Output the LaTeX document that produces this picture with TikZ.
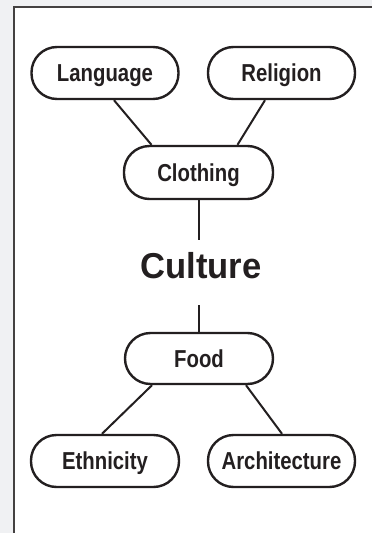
\documentclass[tikz,border=0pt]{standalone}
\usepackage{fontspec}
\newfontfamily\condfont{Liberation Sans}[FakeStretch=0.83]
\newfontfamily\titlefont{Liberation Sans}[FakeStretch=0.96]
\definecolor{bggray}{HTML}{F0F1F3}
\definecolor{ink}{HTML}{231F20}
\begin{document}
\begin{tikzpicture}[x=1pt,y=-1pt,
  topic/.style={draw=ink, line width=2.4pt, rounded corners=25.5pt,
    minimum width=147pt, minimum height=52pt, inner sep=0pt,
    text height=17.7pt, text depth=0pt, text=ink,
    font=\condfont\bfseries\fontsize{24.5}{26}\selectfont},
  link/.style={draw=ink, line width=2pt},
  title/.style={inner sep=0pt, text height=26pt, text depth=0pt, text=ink,
    font=\titlefont\bfseries\fontsize{36}{40}\selectfont}]
\useasboundingbox (0,0) rectangle (372,533);
\fill[bggray] (0,0) rectangle (372,533);
\fill[white] (14,7) rectangle (372,533);
\draw[line width=2pt, draw=ink!85] (14,533) -- (14,7) -- (372,7);

\node[topic] (lang) at (105,73) {Language};
\node[topic] (rel) at (281.5,73) {Religion};
\node[topic, minimum width=149pt, minimum height=53pt] (cloth) at (198.5,172.5) {Clothing};
\node[title] (cult) at (201,265) {Culture};
\node[topic, minimum width=148pt, minimum height=51pt] (food) at (199,358.5) {Food};
\node[topic, minimum width=148pt] (eth) at (105,461) {Ethnicity};
\node[topic] (arch) at (281.5,461) {Architecture};

\coordinate (ctop) at (199,240);
\coordinate (cbot) at (199,305);

\draw[link] ([xshift=9pt]lang.south) -- ([xshift=-47pt]cloth.north);
\draw[link] ([xshift=-16.5pt]rel.south) -- ([xshift=39pt]cloth.north);
\draw[link] ([xshift=0.5pt]cloth.south) -- (ctop);
\draw[link] (cbot) -- (food.north);
\draw[link] ([xshift=-47pt]food.south) -- ([xshift=-3pt]eth.north);
\draw[link] ([xshift=47pt]food.south) -- ([xshift=0.5pt]arch.north);
\end{tikzpicture}
\end{document}
